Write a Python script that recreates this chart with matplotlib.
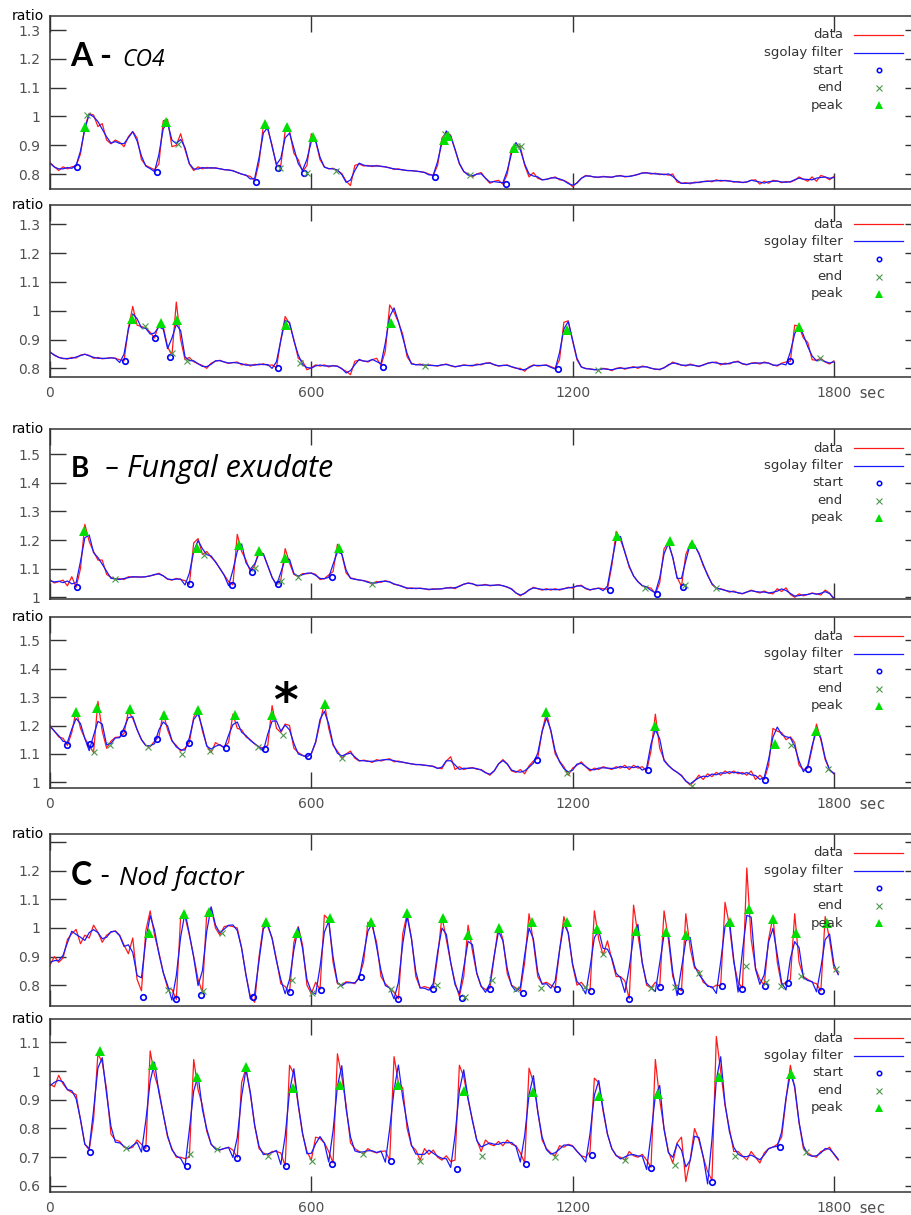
import numpy as np
import matplotlib
matplotlib.use('Agg')
import matplotlib.pyplot as plt

# sampling interval of the ratio traces (sec)
DT = 10

# ---- A - CO4, upper trace (t = 0..1800 s) ----
co4_top = [
    0.840, 0.825, 0.812, 0.825, 0.818, 0.825, 0.828, 0.870, 0.964, 1.010,
    1.005, 0.965, 0.975, 0.918, 0.905, 0.918, 0.910, 0.895, 0.930, 0.948,
    0.925, 0.850, 0.830, 0.822, 0.815, 0.835, 0.985, 0.990, 0.895, 0.900,
    0.940, 0.885, 0.835, 0.812, 0.825, 0.818, 0.823, 0.820, 0.822, 0.818,
    0.815, 0.814, 0.812, 0.805, 0.800, 0.795, 0.792, 0.776, 0.840, 0.970,
    0.955, 0.900, 0.830, 0.830, 0.950, 0.950, 0.872, 0.850, 0.808, 0.830,
    0.940, 0.915, 0.850, 0.825, 0.818, 0.820, 0.812, 0.802, 0.775, 0.760,
    0.830, 0.835, 0.828, 0.830, 0.826, 0.830, 0.826, 0.825, 0.822, 0.816,
    0.818, 0.814, 0.812, 0.812, 0.810, 0.808, 0.806, 0.800, 0.795, 0.830,
    0.925, 0.945, 0.935, 0.885, 0.835, 0.808, 0.800, 0.790, 0.800, 0.805,
    0.785, 0.768, 0.775, 0.778, 0.765, 0.800, 0.890, 0.900, 0.895, 0.830,
    0.790, 0.805, 0.785, 0.780, 0.782, 0.785, 0.790, 0.780, 0.778, 0.770,
    0.756, 0.770, 0.785, 0.795, 0.792, 0.790, 0.788, 0.792, 0.790, 0.788,
    0.793, 0.795, 0.790, 0.792, 0.795, 0.798, 0.804, 0.805, 0.800, 0.803,
    0.798, 0.800, 0.796, 0.800, 0.772, 0.768, 0.770, 0.766, 0.772, 0.770,
    0.774, 0.776, 0.773, 0.780, 0.775, 0.778, 0.776, 0.772, 0.774, 0.770,
    0.772, 0.778, 0.780, 0.765, 0.775, 0.768, 0.778, 0.776, 0.770, 0.774,
    0.772, 0.778, 0.790, 0.782, 0.775, 0.790, 0.775, 0.795, 0.790, 0.780,
    0.792,
]
co4_top_start = [(61, 0.825), (245, 0.808), (474, 0.773), (524, 0.820), (584, 0.805), (885, 0.789), (1047, 0.765)]
co4_top_end = [(86, 1.005), (295, 0.904), (527, 0.820), (589, 0.802), (657, 0.812), (908, 0.940),
               (964, 0.797), (1073, 0.898), (1081, 0.898)]
co4_top_peak = [(80, 0.964), (266, 0.982), (494, 0.974), (545, 0.964), (603, 0.930), (904, 0.918),
                (913, 0.933), (1065, 0.891)]

# ---- A - CO4, lower trace ----
co4_bot = [
    0.858, 0.845, 0.838, 0.835, 0.832, 0.838, 0.836, 0.846, 0.849, 0.845,
    0.835, 0.838, 0.833, 0.835, 0.837, 0.835, 0.830, 0.826, 0.940, 1.015,
    0.950, 0.945, 0.940, 0.925, 0.905, 0.955, 0.945, 0.875, 0.845, 1.030,
    0.900, 0.830, 0.838, 0.823, 0.816, 0.810, 0.800, 0.818, 0.825, 0.828,
    0.822, 0.817, 0.820, 0.822, 0.812, 0.815, 0.808, 0.814, 0.812, 0.816,
    0.810, 0.812, 0.802, 0.900, 0.980, 0.955, 0.900, 0.835, 0.825, 0.795,
    0.802, 0.812, 0.808, 0.812, 0.805, 0.810, 0.808, 0.798, 0.790, 0.778,
    0.825, 0.828, 0.826, 0.822, 0.830, 0.835, 0.810, 0.860, 1.020, 0.995,
    0.960, 0.918, 0.840, 0.818, 0.812, 0.815, 0.809, 0.812, 0.810, 0.808,
    0.812, 0.815, 0.809, 0.805, 0.808, 0.812, 0.810, 0.808, 0.815, 0.812,
    0.818, 0.820, 0.812, 0.808, 0.810, 0.812, 0.805, 0.800, 0.800, 0.790,
    0.805, 0.812, 0.808, 0.810, 0.812, 0.806, 0.800, 0.830, 0.960, 0.965,
    0.895, 0.830, 0.805, 0.800, 0.798, 0.796, 0.794, 0.800, 0.798, 0.792,
    0.800, 0.803, 0.797, 0.802, 0.806, 0.800, 0.808, 0.805, 0.800, 0.798,
    0.795, 0.803, 0.810, 0.822, 0.815, 0.812, 0.808, 0.815, 0.810, 0.806,
    0.812, 0.818, 0.820, 0.822, 0.812, 0.818, 0.815, 0.822, 0.825, 0.815,
    0.812, 0.818, 0.820, 0.815, 0.822, 0.818, 0.812, 0.808, 0.818, 0.822,
    0.825, 0.950, 0.945, 0.905, 0.890, 0.830, 0.828, 0.835, 0.822, 0.815,
    0.826,
]
co4_bot_start = [(172, 0.825), (241, 0.906), (276, 0.840), (524, 0.800), (765, 0.803), (1167, 0.798), (1700, 0.825)]
co4_bot_end = [(218, 0.947), (279, 0.852), (314, 0.827), (574, 0.817), (861, 0.809), (1258, 0.794), (1767, 0.835)]
co4_bot_peak = [(189, 0.971), (256, 0.956), (291, 0.968), (541, 0.950), (784, 0.956), (1188, 0.933), (1721, 0.942)]

# ---- B - Fungal exudate, upper trace ----
fungal_top = [
    1.061, 1.050, 1.055, 1.060, 1.040, 1.072, 1.035, 1.100, 1.255, 1.195,
    1.160, 1.130, 1.130, 1.080, 1.070, 1.063, 1.065, 1.062, 1.072, 1.070,
    1.072, 1.070, 1.072, 1.075, 1.078, 1.084, 1.075, 1.063, 1.060, 1.066,
    1.062, 1.058, 1.045, 1.190, 1.205, 1.150, 1.160, 1.140, 1.125, 1.100,
    1.078, 1.055, 1.043, 1.220, 1.160, 1.130, 1.090, 1.110, 1.165, 1.150,
    1.110, 1.070, 1.045, 1.060, 1.170, 1.120, 1.080, 1.072, 1.083, 1.082,
    1.085, 1.080, 1.062, 1.065, 1.078, 1.090, 1.185, 1.150, 1.085, 1.068,
    1.064, 1.060, 1.058, 1.055, 1.045, 1.055, 1.052, 1.058, 1.054, 1.045,
    1.043, 1.038, 1.030, 1.033, 1.030, 1.032, 1.030, 1.026, 1.030, 1.028,
    1.030, 1.032, 1.035, 1.030, 1.040, 1.045, 1.050, 1.048, 1.040, 1.042,
    1.045, 1.040, 1.042, 1.044, 1.040, 1.035, 1.030, 1.015, 1.005, 1.015,
    1.025, 1.035, 1.030, 1.025, 1.030, 1.025, 1.030, 1.025, 1.030, 1.035,
    1.032, 1.040, 1.042, 1.030, 1.025, 1.030, 1.032, 1.030, 1.028, 1.110,
    1.230, 1.200, 1.160, 1.105, 1.075, 1.055, 1.040, 1.035, 1.032, 1.012,
    1.050, 1.170, 1.190, 1.140, 1.070, 1.038, 1.150, 1.185, 1.180, 1.155,
    1.110, 1.080, 1.045, 1.031, 1.030, 1.025, 1.018, 1.022, 1.015, 1.012,
    1.018, 1.025, 1.020, 1.015, 1.022, 1.015, 1.012, 1.030, 1.020, 1.033,
    1.010, 1.000, 1.012, 1.005, 1.010, 1.015, 1.012, 1.008, 1.025, 1.015,
    0.992,
]
fungal_top_start = [(63, 1.035), (321, 1.045), (417, 1.043), (464, 1.090), (524, 1.045), (647, 1.072),
                    (1285, 1.026), (1394, 1.012), (1454, 1.035)]
fungal_top_end = [(149, 1.063), (354, 1.148), (471, 1.104), (530, 1.057), (570, 1.072), (739, 1.045),
                  (1366, 1.034), (1459, 1.043), (1530, 1.031)]
fungal_top_peak = [(79, 1.232), (337, 1.171), (434, 1.183), (480, 1.162), (540, 1.136), (664, 1.171),
                   (1303, 1.214), (1423, 1.195), (1474, 1.185)]

# ---- B - Fungal exudate, lower trace ----
fungal_bot = [
    1.200, 1.180, 1.160, 1.155, 1.130, 1.175, 1.255, 1.190, 1.155, 1.130,
    1.105, 1.285, 1.180, 1.120, 1.145, 1.158, 1.160, 1.172, 1.250, 1.225,
    1.185, 1.150, 1.130, 1.125, 1.145, 1.160, 1.245, 1.185, 1.145, 1.130,
    1.110, 1.120, 1.140, 1.230, 1.255, 1.180, 1.130, 1.105, 1.140, 1.130,
    1.125, 1.140, 1.240, 1.190, 1.185, 1.160, 1.150, 1.135, 1.125, 1.120,
    1.130, 1.270, 1.190, 1.175, 1.205, 1.200, 1.120, 1.105, 1.095, 1.090,
    1.100, 1.140, 1.210, 1.280, 1.190, 1.130, 1.110, 1.085, 1.100, 1.110,
    1.085, 1.075, 1.078, 1.075, 1.070, 1.080, 1.075, 1.080, 1.083, 1.072,
    1.075, 1.070, 1.068, 1.065, 1.062, 1.063, 1.060, 1.058, 1.057, 1.050,
    1.048, 1.075, 1.090, 1.045, 1.055, 1.045, 1.050, 1.052, 1.046, 1.045,
    1.035, 1.025, 1.040, 1.065, 1.080, 1.065, 1.040, 1.035, 1.045, 1.030,
    1.058, 1.075, 1.085, 1.180, 1.245, 1.180, 1.100, 1.075, 1.055, 1.025,
    1.050, 1.060, 1.072, 1.055, 1.040, 1.050, 1.045, 1.055, 1.050, 1.045,
    1.055, 1.050, 1.060, 1.045, 1.060, 1.050, 1.055, 1.040, 1.110, 1.240,
    1.120, 1.080, 1.060, 1.045, 1.035, 1.025, 1.005, 0.990, 1.005, 1.025,
    1.010, 1.030, 1.020, 1.035, 1.025, 1.040, 1.030, 1.040, 1.030, 1.035,
    1.025, 1.040, 1.010, 1.025, 1.010, 1.060, 1.190, 1.180, 1.175, 1.150,
    1.160, 1.140, 1.060, 1.045, 1.050, 1.120, 1.205, 1.150, 1.080, 1.045,
    1.030,
]
fungal_bot_start = [(38, 1.130), (92, 1.134), (168, 1.173), (246, 1.152), (319, 1.138), (403, 1.120),
                    (494, 1.118), (593, 1.091), (1118, 1.079), (1372, 1.042), (1641, 1.009), (1741, 1.048)]
fungal_bot_end = [(101, 1.106), (138, 1.132), (226, 1.126), (302, 1.100), (367, 1.109), (478, 1.126),
                  (536, 1.167), (670, 1.085), (1186, 1.033), (1474, 0.986), (1702, 1.130), (1787, 1.048)]
fungal_bot_peak = [(60, 1.246), (109, 1.263), (184, 1.258), (262, 1.237), (339, 1.253), (425, 1.237),
                   (509, 1.237), (631, 1.275), (1138, 1.249), (1389, 1.200), (1664, 1.134), (1758, 1.179)]

# ---- C - Nod factor, upper trace (t = 0..1810 s) ----
nod_top = [
    0.870, 0.900, 0.880, 0.895, 0.960, 0.980, 0.995, 0.945, 0.975, 0.965,
    1.010, 0.985, 0.950, 0.975, 0.985, 0.990, 0.975, 0.940, 0.910, 0.965,
    0.820, 0.780, 0.990, 1.060, 0.975, 0.915, 0.845, 0.790, 0.785, 0.750,
    1.040, 1.040, 0.975, 0.900, 0.820, 0.775, 1.055, 1.070, 1.000, 0.975,
    1.005, 1.008, 1.005, 1.000, 0.930, 0.835, 0.760, 0.740, 0.900, 1.010,
    1.005, 0.965, 0.890, 0.805, 0.795, 0.775, 0.950, 1.005, 0.940, 0.800,
    0.770, 0.810, 0.785, 1.045, 1.030, 0.880, 0.805, 0.800, 0.812, 0.810,
    0.805, 0.830, 0.880, 1.020, 1.005, 0.950, 0.830, 0.805, 0.790, 0.775,
    0.752, 0.980, 1.050, 0.965, 0.830, 0.790, 0.795, 0.790, 0.790, 0.900,
    1.040, 0.960, 0.880, 0.810, 0.760, 0.830, 1.010, 0.920, 0.840, 0.795,
    0.785, 0.788, 0.900, 1.010, 0.960, 0.840, 0.800, 0.790, 0.780, 0.880,
    1.050, 0.950, 0.830, 0.805, 0.810, 0.800, 0.790, 0.920, 1.040, 0.980,
    0.870, 0.800, 0.810, 0.790, 0.780, 1.060, 0.960, 0.905, 0.955, 0.890,
    0.830, 0.830, 0.815, 0.752, 1.080, 0.975, 0.880, 0.800, 0.790, 0.810,
    0.795, 1.060, 0.960, 0.830, 0.790, 0.780, 1.050, 0.930, 0.860, 0.850,
    0.810, 0.800, 0.790, 0.800, 0.798, 1.090, 1.010, 0.880, 0.810, 0.790,
    1.210, 0.960, 0.860, 0.820, 0.800, 0.960, 1.040, 0.880, 0.800, 0.810,
    0.820, 1.050, 0.880, 0.830, 0.820, 0.810, 0.805, 0.780, 1.040, 0.960,
    0.860, 0.840,
]
nod_top_start = [(213, 0.759), (289, 0.751), (347, 0.767), (467, 0.759), (552, 0.777), (622, 0.782),
                 (714, 0.829), (800, 0.753), (880, 0.788), (945, 0.756), (1010, 0.788), (1086, 0.774),
                 (1165, 0.785), (1242, 0.780), (1329, 0.753), (1400, 0.794), (1446, 0.779), (1542, 0.798),
                 (1589, 0.788), (1641, 0.796), (1695, 0.806), (1771, 0.779)]
nod_top_end = [(272, 0.782), (352, 0.780), (396, 0.984), (556, 0.818), (601, 0.771), (666, 0.802),
               (784, 0.785), (888, 0.800), (952, 0.760), (1015, 0.818), (1071, 0.788), (1128, 0.790),
               (1228, 0.792), (1270, 0.908), (1381, 0.790), (1434, 0.794), (1490, 0.843), (1598, 0.868),
               (1645, 0.810), (1679, 0.798), (1724, 0.833), (1804, 0.856)]
nod_top_peak = [(227, 0.981), (308, 1.048), (366, 1.055), (495, 1.022), (568, 0.981), (643, 1.034),
                (736, 1.020), (820, 1.051), (903, 1.034), (960, 0.975), (1031, 1.001), (1106, 1.020),
                (1186, 1.022), (1257, 0.995), (1345, 0.990), (1415, 0.987), (1461, 0.975), (1561, 1.022),
                (1604, 1.065), (1660, 1.030), (1712, 0.981), (1785, 1.016)]

# ---- C - Nod factor, lower trace ----
nod_bot = [
    0.955, 0.945, 0.985, 0.955, 0.935, 0.925, 0.918, 0.830, 0.745, 0.725,
    0.830, 1.060, 1.030, 0.935, 0.780, 0.760, 0.755, 0.735, 0.730, 0.735,
    0.760, 0.745, 0.730, 1.070, 0.985, 0.935, 0.850, 0.770, 0.730, 0.700,
    0.700, 0.695, 0.700, 1.040, 0.935, 0.880, 0.790, 0.745, 0.730, 0.725,
    0.730, 0.735, 0.725, 0.700, 0.960, 1.010, 0.920, 0.810, 0.730, 0.715,
    0.708, 0.720, 0.720, 0.715, 0.670, 1.020, 0.990, 0.880, 0.780, 0.720,
    0.690, 0.770, 0.765, 0.750, 0.720, 0.680, 1.060, 0.980, 0.880, 0.750,
    0.730, 0.720, 0.712, 0.730, 0.720, 0.715, 0.720, 0.722, 0.690, 1.050,
    0.960, 0.940, 0.800, 0.740, 0.725, 0.690, 0.730, 0.710, 0.725, 0.700,
    0.690, 0.705, 0.685, 0.690, 1.020, 0.980, 0.900, 0.830, 0.760, 0.720,
    0.760, 0.745, 0.740, 0.755, 0.740, 0.760, 0.745, 0.740, 0.715, 0.680,
    1.010, 0.960, 0.860, 0.760, 0.730, 0.715, 0.705, 0.740, 0.735, 0.745,
    0.740, 0.720, 0.705, 0.700, 0.720, 0.975, 0.960, 0.860, 0.780, 0.730,
    0.705, 0.700, 0.690, 0.720, 0.705, 0.700, 0.710, 0.690, 0.665, 1.040,
    0.900, 0.800, 0.720, 0.680, 0.750, 0.770, 0.615, 0.690, 0.800, 0.760,
    0.700, 0.650, 0.620, 1.120, 1.000, 0.880, 0.800, 0.720, 0.720, 0.705,
    0.690, 0.720, 0.700, 0.680, 0.715, 0.730, 0.735, 0.745, 0.770, 0.900,
    1.020, 0.940, 0.820, 0.730, 0.715, 0.705, 0.700, 0.720, 0.725, 0.735,
    0.710, 0.690,
]
nod_bot_start = [(92, 0.717), (220, 0.731), (315, 0.670), (429, 0.699), (543, 0.670), (647, 0.675),
                 (784, 0.688), (935, 0.658), (1092, 0.675), (1245, 0.708), (1381, 0.661), (1519, 0.613),
                 (1676, 0.737)]
nod_bot_end = [(174, 0.731), (321, 0.710), (383, 0.729), (501, 0.706), (601, 0.688), (719, 0.710),
               (850, 0.688), (993, 0.706), (1159, 0.702), (1321, 0.690), (1435, 0.673), (1572, 0.706),
               (1735, 0.717)]
nod_bot_peak = [(115, 1.068), (236, 1.021), (337, 0.980), (450, 1.015), (559, 0.942), (666, 0.952),
                (800, 0.952), (950, 0.932), (1109, 0.926), (1261, 0.913), (1396, 0.920), (1536, 0.980),
                (1702, 0.990)]

# 圖面配置 (pixels)
FIG_W, FIG_H = 912, 1215
LEFT_PX, RIGHT_PX = 50, 921

RED = '#ff1a1a'
BLUE = '#1a1aff'
START_C = '#0000ff'
END_C = '#4a9a4a'
PEAK_C = '#00e000'
TICK_C = '#505050'


def sgolay(y):
    """Savitzky-Golay 濾波 (window 5, order 2)."""
    y = np.asarray(y, dtype=float)
    coef = np.array([-3, 12, 17, 12, -3]) / 35.0
    pad = np.concatenate([[y[0], y[0]], y, [y[-1], y[-1]]])
    return np.convolve(pad, coef, mode='valid')


def draw_legend(ax, h_px):
    x_txt = (843 - LEFT_PX) / (RIGHT_PX - LEFT_PX)
    x_l0 = (854 - LEFT_PX) / (RIGHT_PX - LEFT_PX)
    x_l1 = (903 - LEFT_PX) / (RIGHT_PX - LEFT_PX)
    x_m = (879 - LEFT_PX) / (RIGHT_PX - LEFT_PX)
    rows = [19, 36.5, 54, 71.5, 89]
    names = ['data', 'sgolay filter', 'start', 'end', 'peak']
    for off, name in zip(rows, names):
        y = 1 - off / h_px
        ax.text(x_txt, y, name, transform=ax.transAxes, ha='right', va='center',
                fontsize=9.5, color='#333333')
    y = [1 - r / h_px for r in rows]
    ax.plot([x_l0, x_l1], [y[0], y[0]], color=RED, lw=0.9, transform=ax.transAxes)
    ax.plot([x_l0, x_l1], [y[1], y[1]], color=BLUE, lw=0.9, transform=ax.transAxes)
    ax.plot([x_m], [y[2]], 'o', mfc='none', mec=START_C, ms=3.2, mew=1.1, transform=ax.transAxes)
    ax.plot([x_m], [y[3]], 'x', color=END_C, ms=4.5, mew=0.8, transform=ax.transAxes)
    ax.plot([x_m], [y[4]], '^', color=PEAK_C, ms=5.5, mew=0, transform=ax.transAxes)


def draw_panel(fig, top, bottom, vals, starts, ends, peaks, ylim, yticks, ylabels, show_x):
    rect = [LEFT_PX / FIG_W, 1 - bottom / FIG_H, (RIGHT_PX - LEFT_PX) / FIG_W, (bottom - top) / FIG_H]
    ax = fig.add_axes(rect)
    t = np.arange(len(vals)) * DT
    ax.plot(t, vals, color=RED, lw=0.9)
    ax.plot(t, sgolay(vals), color=BLUE, lw=0.9)
    st, sv = zip(*starts)
    et, ev = zip(*ends)
    pt, pv = zip(*peaks)
    ax.plot(st, sv, 'o', mfc='none', mec=START_C, ms=4, mew=1.2, ls='none')
    ax.plot(et, ev, 'x', color=END_C, ms=4.5, mew=0.8, ls='none')
    ax.plot(pt, pv, '^', color=PEAK_C, ms=6.5, mew=0, ls='none')

    ax.set_xlim(0, 2000)
    ax.set_ylim(*ylim)
    ax.set_xticks([0, 600, 1200, 1800])
    ax.set_yticks(yticks)
    ax.set_yticklabels(ylabels)
    ax.tick_params(direction='in', length=11.5, width=1, top=True, right=True,
                   labelsize=10, labelcolor=TICK_C, color='#333333', pad=7)
    ax.tick_params(axis='x', labelbottom=show_x, pad=6.5)
    for sp in ax.spines.values():
        sp.set_color('#333333')
        sp.set_linewidth(1.1)
    ax.text(-0.007, 1.0, 'ratio', transform=ax.transAxes, ha='right', va='center',
            fontsize=10, color='black')
    if show_x:
        ax.annotate('sec', xy=(1887, 0), xycoords=('data', 'axes fraction'),
                    xytext=(0, -6.5), textcoords='offset points', ha='center', va='top',
                    family='DejaVu Sans Mono', fontsize=11, color=TICK_C)
    draw_legend(ax, bottom - top)
    return ax


def fig_text(fig, x_px, y_px, s, family='Lato', **kw):
    fig.text(x_px / FIG_W, 1 - y_px / FIG_H, s, va='baseline', ha='left', family=family, **kw)


if __name__ == "__main__":
    fig = plt.figure(figsize=(FIG_W / 100, FIG_H / 100), dpi=100)

    lab_a = ['0.8', '0.9', '1', '1.1', '1.2', '1.3']
    lab_b = ['1', '1.1', '1.2', '1.3', '1.4', '1.5']
    tick_a = [0.8, 0.9, 1.0, 1.1, 1.2, 1.3]
    tick_b = [1.0, 1.1, 1.2, 1.3, 1.4, 1.5]

    draw_panel(fig, 16, 189, co4_top, co4_top_start, co4_top_end, co4_top_peak,
               (0.748, 1.349), tick_a, lab_a, False)
    draw_panel(fig, 205, 377, co4_bot, co4_bot_start, co4_bot_end, co4_bot_peak,
               (0.770, 1.367), tick_a, lab_a, True)
    draw_panel(fig, 429, 599, fungal_top, fungal_top_start, fungal_top_end, fungal_top_peak,
               (0.994, 1.588), tick_b, lab_b, False)
    ax_b2 = draw_panel(fig, 617, 788, fungal_bot, fungal_bot_start, fungal_bot_end, fungal_bot_peak,
                       (0.980, 1.582), tick_b, lab_b, True)
    draw_panel(fig, 834, 1006, nod_top, nod_top_start, nod_top_end, nod_top_peak,
               (0.727, 1.329), tick_a, ['0.8', '0.9', '1', '1.1', '1.2', ''], False)
    draw_panel(fig, 1019, 1192, nod_bot, nod_bot_start, nod_bot_end, nod_bot_peak,
               (0.579, 1.181), [0.6, 0.7, 0.8, 0.9, 1.0, 1.1],
               ['0.6', '0.7', '0.8', '0.9', '1', '1.1'], True)

    # 面板標題
    fig_text(fig, 70, 66, 'A -', fontsize=23, fontweight='bold')
    fig_text(fig, 122, 66, 'CO4', family='Open Sans', fontsize=16.5, fontstyle='italic')
    fig_text(fig, 71, 477, 'B', fontsize=20, fontweight='bold')
    fig_text(fig, 104, 477, '\u2013', fontsize=20)
    fig_text(fig, 127, 477, 'Fungal exudate', family='Open Sans', fontsize=22, fontstyle='italic')
    fig_text(fig, 71, 885, 'C', fontsize=23, fontweight='bold')
    fig_text(fig, 99, 885, '-', fontsize=20)
    fig_text(fig, 119, 885, 'Nod factor', family='Open Sans', fontsize=19, fontstyle='italic')

    # 星號
    ax_b2.text(540, 1.279, '*', ha='center', va='center', fontsize=34, fontweight='bold')

    fig.savefig('out.png', dpi=100)
    plt.close(fig)
